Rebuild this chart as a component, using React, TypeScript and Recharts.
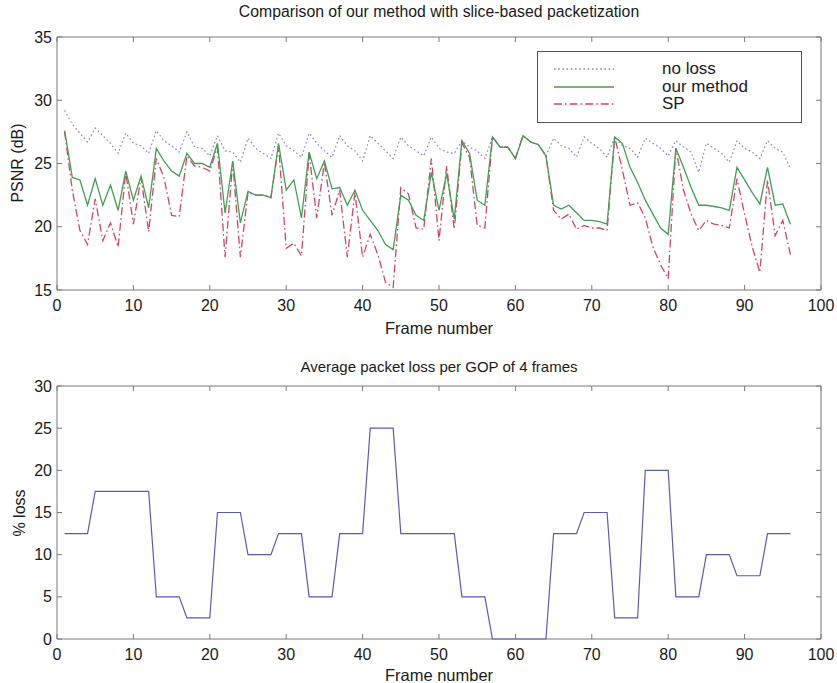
import React from 'react';
import { LineChart, Line, XAxis, YAxis, Label } from 'recharts';

const frames = [
  1, 2, 3, 4, 5, 6, 7, 8, 9, 10, 11, 12, 13, 14, 15, 16, 17, 18, 19, 20,
  21, 22, 23, 24, 25, 26, 27, 28, 29, 30, 31, 32, 33, 34, 35, 36, 37, 38, 39, 40,
  41, 42, 43, 44, 45, 46, 47, 48, 49, 50, 51, 52, 53, 54, 55, 56, 57, 58, 59, 60,
  61, 62, 63, 64, 65, 66, 67, 68, 69, 70, 71, 72, 73, 74, 75, 76, 77, 78, 79, 80,
  81, 82, 83, 84, 85, 86, 87, 88, 89, 90, 91, 92, 93, 94, 95, 96,
];

const noLoss = [
  29.2, 28.1, 27.4, 26.7, 27.8, 27.2, 26.6, 25.8, 27.4, 26.6, 26.4, 25.8, 27.6, 26.8, 26.4, 25.9, 27.5, 26.3, 26.2, 25.6,
  27.2, 26.0, 25.9, 25.1, 27.0, 26.2, 25.8, 25.4, 27.4, 26.4, 26.0, 25.5, 27.4, 26.6, 26.0, 25.5, 27.2, 26.4, 26.0, 25.2,
  27.2, 26.6, 26.0, 25.4, 27.1, 26.4, 26.0, 25.6, 27.1, 26.2, 25.9, 25.8, 26.8, 26.3, 26.0, 25.4, 27.1, 26.3, 26.3, 25.4,
  27.2, 26.7, 26.5, 25.6, 27.0, 26.4, 26.2, 25.5, 27.1, 26.6, 26.2, 25.5, 27.1, 26.4, 26.2, 25.5, 27.0, 26.6, 26.2, 25.6,
  26.8, 26.3, 25.9, 24.3, 26.6, 26.2, 25.8, 25.1, 26.8, 26.2, 25.9, 25.4, 26.8, 26.2, 25.9, 24.6,
];

const ourMethod = [
  27.6, 23.9, 23.7, 21.7, 23.8, 21.7, 23.3, 21.3, 24.4, 22.1, 24.0, 21.5, 26.2, 25.2, 24.4, 24.0, 25.8, 25.0, 25.0, 24.7,
  26.6, 21.1, 25.2, 20.3, 22.8, 22.5, 22.5, 22.3, 26.6, 22.9, 23.7, 20.7, 25.9, 23.8, 25.2, 23.0, 23.1, 21.7, 22.9, 21.3,
  20.5, 19.7, 18.6, 18.2, 22.5, 22.1, 20.9, 20.5, 24.3, 21.3, 24.2, 20.6, 26.8, 25.8, 22.1, 21.7, 27.1, 26.3, 26.3, 25.4,
  27.2, 26.7, 26.5, 25.6, 21.7, 21.4, 21.7, 21.1, 20.5, 20.5, 20.4, 20.2, 27.1, 26.6, 24.7, 23.5, 22.1, 21.0, 19.9, 19.4,
  26.2, 24.7, 23.1, 21.7, 21.7, 21.6, 21.5, 21.3, 24.7, 23.7, 22.7, 21.8, 24.7, 21.7, 21.8, 20.2,
];

const slicePacketization = [
  27.5, 22.9, 19.7, 18.6, 22.2, 18.9, 20.3, 18.4, 24.3, 20.2, 23.9, 19.6, 25.4, 23.9, 20.9, 20.8, 25.6, 24.8, 24.7, 24.4,
  26.3, 17.6, 25.1, 17.6, 22.7, 22.5, 22.5, 22.3, 26.4, 18.3, 18.7, 17.7, 25.8, 20.7, 25.1, 20.9, 22.9, 17.6, 22.7, 17.6,
  19.4, 17.8, 15.6, 15.2, 23.1, 22.6, 19.9, 19.8, 25.4, 18.9, 24.8, 19.8, 26.6, 25.5, 20.1, 19.9, 27.1, 26.3, 26.3, 25.4,
  27.2, 26.7, 26.5, 25.6, 21.3, 20.6, 21.0, 19.8, 20.1, 19.9, 19.9, 19.7, 27.1, 24.5, 21.7, 21.9, 20.7, 18.4, 17.0, 15.9,
  26.2, 22.9, 21.0, 19.7, 20.5, 20.2, 20.1, 19.9, 23.8, 21.0, 18.4, 16.4, 23.7, 19.3, 20.5, 17.8,
];

const packetLoss = [
  12.5, 12.5, 12.5, 12.5, 17.5, 17.5, 17.5, 17.5, 17.5, 17.5, 17.5, 17.5, 5, 5, 5, 5, 2.5, 2.5, 2.5, 2.5,
  15, 15, 15, 15, 10, 10, 10, 10, 12.5, 12.5, 12.5, 12.5, 5, 5, 5, 5, 12.5, 12.5, 12.5, 12.5,
  25, 25, 25, 25, 12.5, 12.5, 12.5, 12.5, 12.5, 12.5, 12.5, 12.5, 5, 5, 5, 5, 0, 0, 0, 0,
  0, 0, 0, 0, 12.5, 12.5, 12.5, 12.5, 15, 15, 15, 15, 2.5, 2.5, 2.5, 2.5, 20, 20, 20, 20,
  5, 5, 5, 5, 10, 10, 10, 10, 7.5, 7.5, 7.5, 7.5, 12.5, 12.5, 12.5, 12.5,
];

const xTicks = [0, 10, 20, 30, 40, 50, 60, 70, 80, 90, 100];
const psnrTicks = [15, 20, 25, 30, 35];
const lossTicks = [0, 5, 10, 15, 20, 25, 30];

const topTitle = 'Comparison of our method with slice-based packetization';
const bottomTitle = 'Average packet loss per GOP of 4 frames';
const xLabel = 'Frame number';
const topYLabel = 'PSNR (dB)';
const bottomYLabel = '% loss';
const legendNames = ['no loss', 'our method', 'SP'];

const topData = frames.map((f, i) => ({
  frame: f,
  noLoss: noLoss[i],
  ourMethod: ourMethod[i],
  sp: slicePacketization[i],
}));
const bottomData = frames.map((f, i) => ({ frame: f, loss: packetLoss[i] }));

const FONT = '"Liberation Sans", Arial, sans-serif';
const AXIS = '#7a7a7a';
const TXT = '#1a1a1a';
const C_NOLOSS = '#8585c4';
const C_OUR = '#449e52';
const C_SP = '#d04466';
const C_LOSS = '#5a5ab8';
const DASH_NOLOSS = '1.6 2.6';
const DASH_SP = '8 3 1.6 3';
const TICK_LEN = 5;
const CHART_W = 837;
const M_LEFT = 7;
const M_RIGHT = 15;
const Y_AXIS_W = 50;
const PLOT_RIGHT = CHART_W - M_RIGHT - 1;

// Inward tick marks with MATLAB-like labels
const BottomTick = (props: any) => {
  const { x, y, payload } = props;
  return (
    <g>
      <line x1={x} y1={y} x2={x} y2={y - TICK_LEN} stroke={AXIS} strokeWidth={1} />
      <text x={x} y={y + 21} textAnchor="middle" fill={TXT} fontSize={16} fontFamily={FONT}>
        {payload.value}
      </text>
    </g>
  );
};
const TopTick = (props: any) => {
  const { x, y } = props;
  return <line x1={x} y1={y} x2={x} y2={y + TICK_LEN} stroke={AXIS} strokeWidth={1} />;
};
const LeftTick = (props: any) => {
  const { x, y, payload } = props;
  return (
    <g>
      <line x1={x} y1={y} x2={x + TICK_LEN} y2={y} stroke={AXIS} strokeWidth={1} />
      <line x1={PLOT_RIGHT} y1={y} x2={PLOT_RIGHT - TICK_LEN} y2={y} stroke={AXIS} strokeWidth={1} />
      <text x={x - 5} y={y + 5.5} textAnchor="end" fill={TXT} fontSize={16} fontFamily={FONT}>
        {payload.value}
      </text>
    </g>
  );
};

const axisCommon = {
  tickLine: false,
  tickSize: 0,
  tickMargin: 0,
  interval: 0 as const,
  stroke: AXIS,
};

function Legend() {
  const items = [
    { name: legendNames[0], color: C_NOLOSS, dash: DASH_NOLOSS },
    { name: legendNames[1], color: C_OUR, dash: undefined },
    { name: legendNames[2], color: C_SP, dash: DASH_SP },
  ];
  return (
    <div
      style={{
        position: 'absolute',
        left: 537,
        top: 51,
        width: 263,
        height: 70,
        border: '1px solid #555',
        background: '#fff',
      }}
    >
      {items.map((it, i) => (
        <div
          key={it.name}
          style={{ position: 'absolute', left: 0, top: 7 + i * 17.5, height: 20, width: 263 }}
        >
          <svg width={70} height={20} style={{ position: 'absolute', left: 14, top: 0 }}>
            <line
              x1={2}
              y1={10}
              x2={62}
              y2={10}
              stroke={it.color}
              strokeWidth={1.3}
              strokeDasharray={it.dash}
            />
          </svg>
          <span
            style={{
              position: 'absolute',
              left: 124,
              top: 0,
              fontSize: 17,
              lineHeight: '20px',
              whiteSpace: 'nowrap',
            }}
          >
            {it.name}
          </span>
        </div>
      ))}
    </div>
  );
}

function RotatedLabel({ text, cx, cy }: { text: string; cx: number; cy: number }) {
  return (
    <div style={{ position: 'absolute', left: cx, top: cy, width: 0, height: 0 }}>
      <div
        style={{
          position: 'absolute',
          left: -60,
          top: -10,
          width: 120,
          height: 20,
          lineHeight: '20px',
          textAlign: 'center',
          fontSize: 16,
          transform: 'rotate(-90deg)',
        }}
      >
        {text}
      </div>
    </div>
  );
}

export default function App() {
  return (
    <div
      style={{
        position: 'absolute',
        left: 0,
        top: 0,
        width: 837,
        height: 683,
        background: '#fff',
        fontFamily: FONT,
        color: TXT,
        overflow: 'hidden',
      }}
    >
      <div
        style={{
          position: 'absolute',
          left: 57,
          width: 764,
          top: 3,
          textAlign: 'center',
          fontSize: 15.8,
          lineHeight: '18px',
        }}
      >
        {topTitle}
      </div>
      <div
        style={{
          position: 'absolute',
          left: 57,
          width: 764,
          top: 358,
          textAlign: 'center',
          fontSize: 15,
          lineHeight: '18px',
        }}
      >
        {bottomTitle}
      </div>

      <div style={{ position: 'absolute', left: 0, top: 0 }}>
        <LineChart
          width={CHART_W}
          height={340}
          data={topData}
          margin={{ top: 36, right: M_RIGHT, bottom: 5, left: M_LEFT }}
        >
          <XAxis
            xAxisId="b"
            dataKey="frame"
            type="number"
            domain={[0, 100]}
            ticks={xTicks}
            height={45}
            tick={<BottomTick />}
            {...axisCommon}
          >
            <Label
              value={xLabel}
              position="insideBottom"
              offset={1}
              style={{ fill: TXT, fontSize: 16.5, fontFamily: FONT }}
            />
          </XAxis>
          <XAxis
            xAxisId="t"
            orientation="top"
            dataKey="frame"
            type="number"
            domain={[0, 100]}
            ticks={xTicks}
            height={1}
            tick={<TopTick />}
            {...axisCommon}
          />
          <YAxis
            yAxisId="l"
            type="number"
            domain={[15, 35]}
            ticks={psnrTicks}
            width={Y_AXIS_W}
            tick={<LeftTick />}
            {...axisCommon}
          />
          <YAxis
            yAxisId="r"
            orientation="right"
            type="number"
            domain={[15, 35]}
            ticks={psnrTicks}
            width={1}
            tick={false}
            {...axisCommon}
          />
          <Line
            xAxisId="b"
            yAxisId="l"
            type="linear"
            dataKey="noLoss"
            name={legendNames[0]}
            stroke={C_NOLOSS}
            strokeWidth={1.2}
            strokeDasharray={DASH_NOLOSS}
            dot={false}
            isAnimationActive={false}
          />
          <Line
            xAxisId="b"
            yAxisId="l"
            type="linear"
            dataKey="sp"
            name={legendNames[2]}
            stroke={C_SP}
            strokeWidth={1.3}
            strokeDasharray={DASH_SP}
            dot={false}
            isAnimationActive={false}
          />
          <Line
            xAxisId="b"
            yAxisId="l"
            type="linear"
            dataKey="ourMethod"
            name={legendNames[1]}
            stroke={C_OUR}
            strokeWidth={1.3}
            dot={false}
            isAnimationActive={false}
          />
        </LineChart>
      </div>

      <div style={{ position: 'absolute', left: 0, top: 340 }}>
        <LineChart
          width={CHART_W}
          height={343}
          data={bottomData}
          margin={{ top: 45, right: M_RIGHT, bottom: 4, left: M_LEFT }}
        >
          <XAxis
            xAxisId="b"
            dataKey="frame"
            type="number"
            domain={[0, 100]}
            ticks={xTicks}
            height={40}
            tick={<BottomTick />}
            {...axisCommon}
          >
            <Label
              value={xLabel}
              position="insideBottom"
              offset={-2}
              style={{ fill: TXT, fontSize: 16.5, fontFamily: FONT }}
            />
          </XAxis>
          <XAxis
            xAxisId="t"
            orientation="top"
            dataKey="frame"
            type="number"
            domain={[0, 100]}
            ticks={xTicks}
            height={1}
            tick={<TopTick />}
            {...axisCommon}
          />
          <YAxis
            yAxisId="l"
            type="number"
            domain={[0, 30]}
            ticks={lossTicks}
            width={Y_AXIS_W}
            tick={<LeftTick />}
            {...axisCommon}
          />
          <YAxis
            yAxisId="r"
            orientation="right"
            type="number"
            domain={[0, 30]}
            ticks={lossTicks}
            width={1}
            tick={false}
            {...axisCommon}
          />
          <Line
            xAxisId="b"
            yAxisId="l"
            type="linear"
            dataKey="loss"
            stroke={C_LOSS}
            strokeWidth={1.2}
            dot={false}
            isAnimationActive={false}
          />
        </LineChart>
      </div>

      <RotatedLabel text={topYLabel} cx={18} cy={163} />
      <RotatedLabel text={bottomYLabel} cx={20} cy={513} />
      <Legend />
    </div>
  );
}
